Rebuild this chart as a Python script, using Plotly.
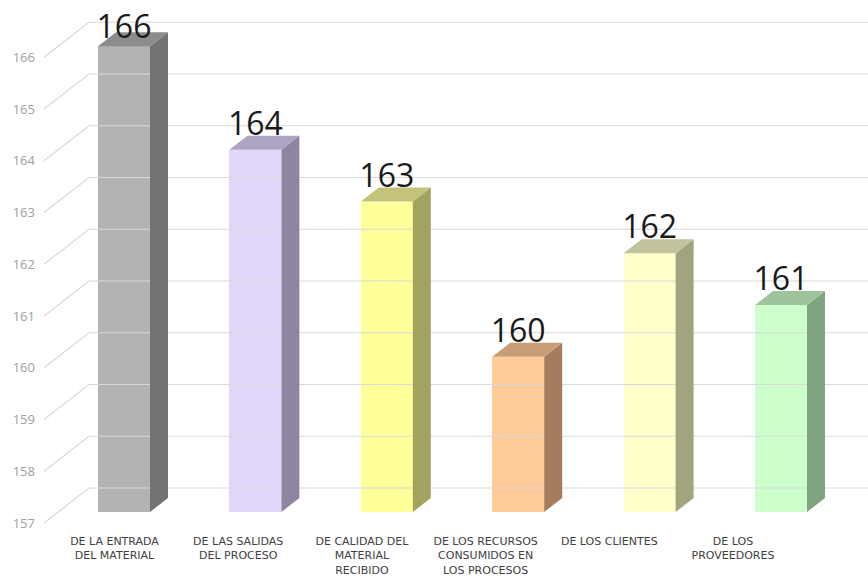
import plotly.graph_objects as go

# ---- data ----
categories = [
    "DE LA ENTRADA<br>DEL MATERIAL",
    "DE LAS SALIDAS<br>DEL PROCESO",
    "DE CALIDAD DEL<br>MATERIAL<br>RECIBIDO",
    "DE LOS RECURSOS<br>CONSUMIDOS EN<br>LOS PROCESOS",
    "DE LOS CLIENTES",
    "DE LOS<br>PROVEEDORES",
]
values = [166, 164, 163, 160, 162, 161]
y_ticks = [157, 158, 159, 160, 161, 162, 163, 164, 165, 166]
y_base = 157

front_colors = ["#b3b3b3", "#e1d5f9", "#ffff99", "#ffcc99", "#ffffcc", "#ccffcc"]
side_colors = ["#737373", "#8f85a1", "#a3a35d", "#a67d5c", "#a3a37f", "#80a380"]
top_colors = ["#8c8c8c", "#afa3c3", "#c3c37b", "#c99e77", "#c2c29c", "#9dc49d"]

# ---- geometry (pixels -> axis units) ----
W, H = 868, 576
ML, MR, MT, MB = 44, 0, 0, 46
SX = 131.4          # px per category
SY = 51.75          # px per value unit
CAT0_PX = 110       # floor-front centre of first category
FLOOR157_PX = 523   # floor-front pixel of value 157

x_left = (ML - CAT0_PX) / SX
x_right = (W - MR - CAT0_PX) / SX
y_bot = y_base + (FLOOR157_PX - (H - MB)) / SY
y_top = y_base + (FLOOR157_PX - MT) / SY

front_dx, front_dy = 14 / SX, 11 / SY
depth_dx, depth_dy = 18 / SX, 14 / SY
wall_dx, wall_dy = 45 / SX, 35 / SY
bar_w = 52 / SX

fig = go.Figure()

# wall + grid lines
gx, gy = [], []
for t in y_ticks:
    gx += [x_left, x_left + wall_dx, x_right, None]
    gy += [t, t + wall_dy, t + wall_dy, None]
fig.add_trace(go.Scatter(x=gx, y=gy, mode="lines",
                         line=dict(color="#d9d9d9", width=1.2),
                         hoverinfo="skip", showlegend=False))

# side and top faces
for i, v in enumerate(values):
    xl = i + front_dx - bar_w / 2
    xr = i + front_dx + bar_w / 2
    b = y_base + front_dy
    t = v + front_dy
    fig.add_trace(go.Scatter(
        x=[xr, xr + depth_dx, xr + depth_dx, xr, xr],
        y=[b, b + depth_dy, t + depth_dy, t, b],
        fill="toself", fillcolor=side_colors[i], mode="none",
        hoverinfo="skip", showlegend=False))
    fig.add_trace(go.Scatter(
        x=[xl, xr, xr + depth_dx, xl + depth_dx, xl],
        y=[t, t, t + depth_dy, t + depth_dy, t],
        fill="toself", fillcolor=top_colors[i], mode="none",
        hoverinfo="skip", showlegend=False))

# value labels (kept inside the chart area, like the original)
label_max = y_top - 30 / SY
fig.add_trace(go.Scatter(
    x=[i + front_dx for i in range(len(values))],
    y=[min(v + front_dy + 23 / SY, label_max) for v in values],
    mode="text", text=[str(v) for v in values],
    textfont=dict(family="Open Sans", size=32, color="#1a1a1a"),
    textposition="middle center", hoverinfo="skip", showlegend=False,
    cliponaxis=False))

# front faces
fig.add_trace(go.Bar(
    x=[i + front_dx for i in range(len(values))],
    y=[v - y_base for v in values],
    base=[y_base + front_dy] * len(values),
    width=bar_w,
    marker=dict(color=front_colors, line=dict(width=0)),
    hoverinfo="skip", showlegend=False))

# category labels axis
LAB0_PX, LAB_SX = 114.5, 123.7
x2_left = (ML - LAB0_PX) / LAB_SX
x2_right = (W - MR - LAB0_PX) / LAB_SX
fig.add_trace(go.Scatter(x=list(range(len(categories))), y=[None] * len(categories),
                         xaxis="x2", mode="markers", hoverinfo="skip", showlegend=False))

fig.update_layout(
    width=W, height=H,
    margin=dict(l=ML, r=MR, t=MT, b=MB),
    paper_bgcolor="white", plot_bgcolor="white",
    xaxis=dict(range=[x_left, x_right], showgrid=False, zeroline=False,
               showticklabels=False, ticks="", showline=False),
    xaxis2=dict(range=[x2_left, x2_right], overlaying="x", anchor="y", side="bottom",
                tickvals=list(range(len(categories))), ticktext=categories,
                showgrid=False, zeroline=False, showline=False, ticks="",
                ticklabelstandoff=3,
                tickfont=dict(family="DejaVu Sans", size=11, color="#404040")),
    yaxis=dict(range=[y_bot, y_top], tickvals=y_ticks, showgrid=False, zeroline=False,
               showline=False, ticks="", ticklabelstandoff=8,
               tickfont=dict(family="Open Sans", size=13, color="#a0a0a0")),
    bargap=0, showlegend=False,
)

fig.write_html("out.html")
